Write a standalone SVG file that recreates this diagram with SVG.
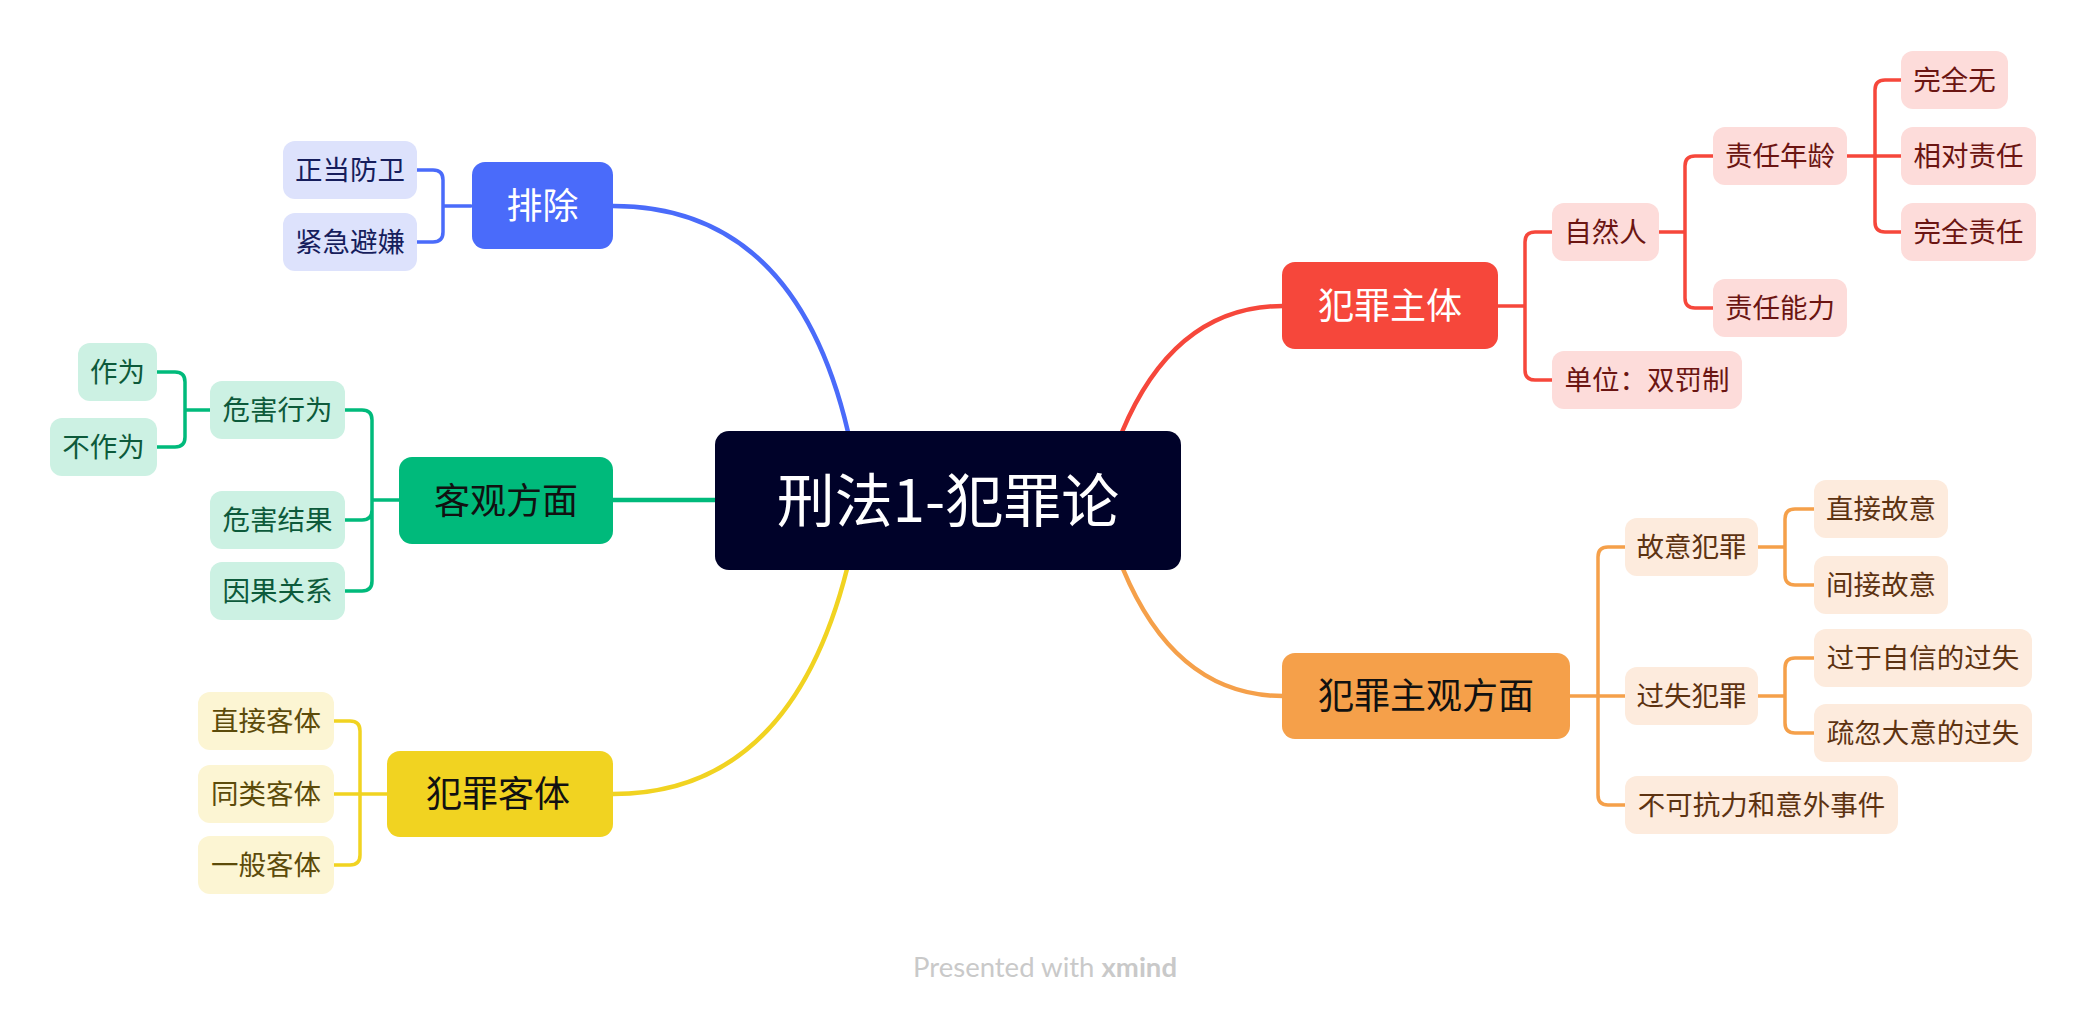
<svg xmlns="http://www.w3.org/2000/svg" width="2084" height="1016" viewBox="0 0 2084 1016">
<style>
text{font-family:"Noto Sans CJK SC","Noto Sans",sans-serif;text-anchor:middle}
.main{font-size:36px}
.sub{font-size:27.5px}
.ln{fill:none;stroke-linecap:round;stroke-linejoin:round}
.br{stroke-width:4.5}
.bk{stroke-width:3.5}
.cB{stroke:#4A6BFA}.cG{stroke:#00BA7B}.cY{stroke:#F1D321}.cR{stroke:#F6473B}.cO{stroke:#F5A04A}
.mB{fill:#4A6BFA}.mG{fill:#00BA7B}.mY{fill:#F1D321}.mR{fill:#F6473B}.mO{fill:#F5A04A}
.sB{fill:#DDE2FC}.sG{fill:#CCF1E3}.sY{fill:#FCF5D3}.sR{fill:#FDDCDA}.sO{fill:#FDEBDD}
.tB{fill:#161D5C}.tG{fill:#0D5A3B}.tY{fill:#5C4B0A}.tR{fill:#6B1512}.tO{fill:#5D3312}
.w{fill:#FFFFFF}.k{fill:#111111}
</style>
<rect width="2084" height="1016" fill="#FFFFFF"/>
<g id="connectors">
<path class="ln br cB" d="M613,206 Q795,206 848,432"/>
<path class="ln br cG" d="M613,500 L716,500"/>
<path class="ln br cY" d="M613,794 Q790,794 847,569"/>
<path class="ln br cR" d="M1283,306 Q1175,306 1122,432"/>
<path class="ln br cO" d="M1283,696 Q1176,696 1123,569"/>
<path class="ln bk cB" d="M471,206 H443 M417,170 H433 Q443,170 443,180 V232 Q443,242 433,242 H417"/>
<path class="ln bk cG" d="M399,500 H372 M345,410 H362 Q372,410 372,420 V581 Q372,591 362,591 H345 M345,520 H362 Q372,520 372,510"/>
<path class="ln bk cG" d="M210,410 H185 M157,372 H175 Q185,372 185,382 V437 Q185,447 175,447 H157"/>
<path class="ln bk cY" d="M387,794 H334 M334,721 H350 Q360,721 360,731 V855 Q360,865 350,865 H334"/>
<path class="ln bk cR" d="M1498,306 H1525 M1552,232 H1535 Q1525,232 1525,242 V370 Q1525,380 1535,380 H1552"/>
<path class="ln bk cR" d="M1659,232 H1685 M1713,156 H1695 Q1685,156 1685,166 V298 Q1685,308 1695,308 H1713"/>
<path class="ln bk cR" d="M1847,156 H1901 M1901,80 H1885 Q1875,80 1875,90 V222 Q1875,232 1885,232 H1901"/>
<path class="ln bk cO" d="M1570,696 H1625 M1625,547 H1608 Q1598,547 1598,557 V795 Q1598,805 1608,805 H1625"/>
<path class="ln bk cO" d="M1758,547 H1785 M1814,509 H1795 Q1785,509 1785,519 V575 Q1785,585 1795,585 H1814"/>
<path class="ln bk cO" d="M1758,696 H1785 M1814,658 H1795 Q1785,658 1785,668 V723 Q1785,733 1795,733 H1814"/>
</g>
<g id="center"><rect x="715" y="431" width="466" height="139" rx="14" fill="#000229"/><text x="948" y="522" font-size="58" class="w">刑法1-犯罪论</text></g>
<g id="n-paichu"><rect class="mB" x="472" y="162" width="141" height="87" rx="13"/><text class="main w" x="542.5" y="219">排除</text></g>
<g id="n-zhengdang"><rect class="sB" x="283" y="141" width="134" height="58" rx="12"/><text class="sub tB" x="350" y="180">正当防卫</text></g>
<g id="n-jinji"><rect class="sB" x="283" y="213" width="134" height="58" rx="12"/><text class="sub tB" x="350" y="252">紧急避嫌</text></g>
<g id="n-keguan"><rect class="mG" x="399" y="457" width="214" height="87" rx="13"/><text class="main k" x="506" y="514">客观方面</text></g>
<g id="n-weihaixingwei"><rect class="sG" x="210" y="381" width="135" height="58" rx="12"/><text class="sub tG" x="277.5" y="420">危害行为</text></g>
<g id="n-weihaijieguo"><rect class="sG" x="210" y="491" width="135" height="58" rx="12"/><text class="sub tG" x="277.5" y="530">危害结果</text></g>
<g id="n-yinguo"><rect class="sG" x="210" y="562" width="135" height="58" rx="12"/><text class="sub tG" x="277.5" y="601">因果关系</text></g>
<g id="n-zuowei"><rect class="sG" x="78" y="343" width="79" height="58" rx="12"/><text class="sub tG" x="117.5" y="382">作为</text></g>
<g id="n-buzuowei"><rect class="sG" x="50" y="418" width="107" height="58" rx="12"/><text class="sub tG" x="103.5" y="457">不作为</text></g>
<g id="n-keti"><rect class="mY" x="387" y="751" width="226" height="86" rx="13"/><text class="main k" x="498" y="807">犯罪客体</text></g>
<g id="n-zhijiekt"><rect class="sY" x="198" y="692" width="136" height="58" rx="12"/><text class="sub tY" x="266" y="731">直接客体</text></g>
<g id="n-tonglei"><rect class="sY" x="198" y="765" width="136" height="58" rx="12"/><text class="sub tY" x="266" y="804">同类客体</text></g>
<g id="n-yiban"><rect class="sY" x="198" y="836" width="136" height="58" rx="12"/><text class="sub tY" x="266" y="875">一般客体</text></g>
<g id="n-zhuti"><rect class="mR" x="1282" y="262" width="216" height="87" rx="13"/><text class="main w" x="1390" y="319">犯罪主体</text></g>
<g id="n-ziranren"><rect class="sR" x="1552" y="203" width="107" height="58" rx="12"/><text class="sub tR" x="1605.5" y="242">自然人</text></g>
<g id="n-danwei"><rect class="sR" x="1552" y="351" width="190" height="58" rx="12"/><text class="sub tR" x="1647" y="390">单位：双罚制</text></g>
<g id="n-nianling"><rect class="sR" x="1713" y="127" width="134" height="58" rx="12"/><text class="sub tR" x="1780" y="166">责任年龄</text></g>
<g id="n-nengli"><rect class="sR" x="1713" y="279" width="134" height="58" rx="12"/><text class="sub tR" x="1780" y="318">责任能力</text></g>
<g id="n-wanquanwu"><rect class="sR" x="1901" y="51" width="107" height="58" rx="12"/><text class="sub tR" x="1954.5" y="90">完全无</text></g>
<g id="n-xiangdui"><rect class="sR" x="1901" y="127" width="135" height="58" rx="12"/><text class="sub tR" x="1968.5" y="166">相对责任</text></g>
<g id="n-wanquanzr"><rect class="sR" x="1901" y="203" width="135" height="58" rx="12"/><text class="sub tR" x="1968.5" y="242">完全责任</text></g>
<g id="n-zhuguan"><rect class="mO" x="1282" y="653" width="288" height="86" rx="13"/><text class="main k" x="1426" y="709">犯罪主观方面</text></g>
<g id="n-guyi"><rect class="sO" x="1625" y="518" width="133" height="58" rx="12"/><text class="sub tO" x="1691.5" y="557">故意犯罪</text></g>
<g id="n-guoshi"><rect class="sO" x="1625" y="667" width="133" height="58" rx="12"/><text class="sub tO" x="1691.5" y="706">过失犯罪</text></g>
<g id="n-bukekangli"><rect class="sO" x="1625" y="776" width="273" height="58" rx="12"/><text class="sub tO" x="1761.5" y="815">不可抗力和意外事件</text></g>
<g id="n-zhijiegy"><rect class="sO" x="1814" y="480" width="134" height="58" rx="12"/><text class="sub tO" x="1881" y="519">直接故意</text></g>
<g id="n-jianjie"><rect class="sO" x="1814" y="556" width="134" height="58" rx="12"/><text class="sub tO" x="1881" y="595">间接故意</text></g>
<g id="n-ziyin"><rect class="sO" x="1814" y="629" width="218" height="58" rx="12"/><text class="sub tO" x="1923" y="668">过于自信的过失</text></g>
<g id="n-shuhu"><rect class="sO" x="1814" y="704" width="218" height="58" rx="12"/><text class="sub tO" x="1923" y="743">疏忽大意的过失</text></g>
<g id="footer"><text x="913" y="977" style="text-anchor:start;font-family:Lato,'Liberation Sans',sans-serif;font-size:26px" fill="#C9C9C9" textLength="264" lengthAdjust="spacingAndGlyphs">Presented with <tspan font-weight="bold">xmind</tspan></text></g>
</svg>
